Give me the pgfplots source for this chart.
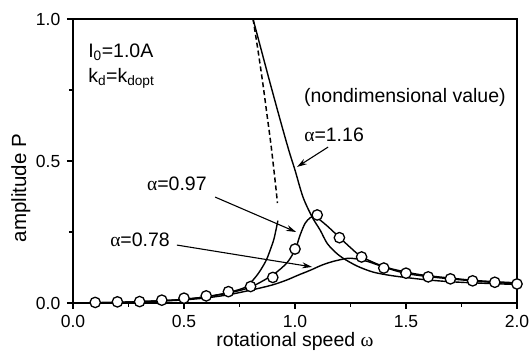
\documentclass[border=0pt]{standalone}
\usepackage{fontspec}
\setmainfont{Liberation Sans}
\newfontfamily\greek{Liberation Serif}
\usepackage{pgfplots}
\pgfplotsset{compat=1.18}
\usetikzlibrary{arrows.meta}

\begin{document}
\fontsize{19.5}{22}\selectfont
\begin{tikzpicture}
\useasboundingbox (-73pt,-60pt) rectangle (457pt,303pt);
\begin{axis}[
  at={(0pt,0pt)}, anchor=south west,
  scale only axis, width=444pt, height=284pt,
  xmin=0, xmax=2, ymin=0, ymax=1,
  xtick={0,0.5,1,1.5,2}, ytick={0,0.5,1},
  minor x tick num=1, minor y tick num=1,
  tick align=outside, major tick length=6pt, minor tick length=4pt,
  xtick pos=left, ytick pos=left,
  axis line style={line width=1.8pt},
  every tick/.style={line width=1.3pt, black},
  /pgf/number format/assume math mode=true,
  xticklabel style={/pgf/number format/.cd,fixed,fixed zerofill,precision=1},
  yticklabel style={/pgf/number format/.cd,fixed,fixed zerofill,precision=1},
  ticklabel style={font=\fontsize{17.5}{20}\selectfont},
  clip=false,
]
% alpha = 1.16 right branch
\addplot[black, line width=1.4pt, smooth] coordinates {
(0.811,1.0) (0.845,0.90) (0.878,0.803) (0.912,0.705) (0.946,0.609) (0.975,0.53)
(1.0,0.468) (1.036,0.373) (1.077,0.303) (1.113,0.257) (1.144,0.211) (1.18,0.18)
(1.216,0.158) (1.28,0.13) (1.351,0.109) (1.43,0.097) (1.518,0.088) (1.6,0.081)
(1.698,0.075) (1.8,0.071) (1.9,0.068) (2.0,0.065)};
% dashed branch
\addplot[black, line width=1.5pt, dash pattern=on 5pt off 3pt, smooth] coordinates {
(0.811,1.0) (0.833,0.891) (0.856,0.768) (0.874,0.662) (0.892,0.556) (0.905,0.468) (0.914,0.405) (0.921,0.352)};
% alpha = 1.16 left branch
\addplot[black, line width=1.4pt, smooth] coordinates {
(0,0) (0.2,0.002) (0.4,0.008) (0.5,0.013) (0.6,0.022) (0.7,0.037) (0.775,0.055)
(0.81,0.08) (0.84,0.11) (0.87,0.15) (0.89,0.19) (0.905,0.225) (0.915,0.26) (0.923,0.29)};
% alpha = 0.97
\addplot[black, line width=1.4pt, smooth] coordinates {
(0,0) (0.2,0.002) (0.4,0.008) (0.5,0.013) (0.6,0.022) (0.7,0.035) (0.8,0.056)
(0.9,0.099) (0.963,0.141) (1.0,0.187) (1.023,0.239) (1.045,0.28) (1.068,0.30)
(1.085,0.305) (1.10,0.30) (1.144,0.272) (1.203,0.229) (1.25,0.195) (1.302,0.162)
(1.405,0.127) (1.518,0.106) (1.6,0.096) (1.698,0.088) (1.8,0.08) (1.9,0.075) (2.0,0.071)};
% alpha = 0.78
\addplot[black, line width=1.4pt, smooth] coordinates {
(0,0) (0.2,0.002) (0.4,0.007) (0.5,0.011) (0.6,0.018) (0.7,0.029) (0.811,0.047)
(0.9,0.064) (0.963,0.081) (1.014,0.098) (1.068,0.115) (1.12,0.133) (1.17,0.146)
(1.234,0.157) (1.27,0.156) (1.324,0.147) (1.414,0.123) (1.5,0.104) (1.6,0.093)
(1.7,0.085) (1.8,0.078) (1.9,0.072) (2.0,0.068)};
% measured points
\addplot[only marks, mark=*, mark size=5.2pt, mark options={fill=white, draw=black, line width=1.3pt}] coordinates {
(0.1,0.002) (0.2,0.004) (0.3,0.005) (0.4,0.01) (0.5,0.017) (0.6,0.025) (0.7,0.04)
(0.8,0.058) (0.9,0.09) (1.0,0.19) (1.1,0.31) (1.2,0.23) (1.3,0.162) (1.4,0.123)
(1.5,0.105) (1.6,0.092) (1.7,0.085) (1.8,0.078) (1.9,0.073) (2.0,0.067)};
% arrows
\draw[line width=1.1pt, -{Stealth[length=10pt,width=6pt]}] (axis cs:1.149,0.549) -- (axis cs:1.009,0.479);
\draw[line width=1.1pt, -{Stealth[length=10pt,width=6pt]}] (axis cs:0.64,0.373) -- (axis cs:1.005,0.25);
\draw[line width=1.1pt, -{Stealth[length=10pt,width=6pt]}] (axis cs:0.468,0.204) -- (axis cs:1.077,0.127);
% texts
\node at (axis cs:1.495,0.725) {(nondimensional value)};
\node at (axis cs:1.176,0.592) {{\greek α}=1.16};
\node at (axis cs:0.468,0.419) {{\greek α}=0.97};
\node at (axis cs:0.302,0.222) {{\greek α}=0.78};
\node[anchor=base west, inner sep=0pt] at (axis cs:0.068,0.866) {I\textsubscript{0}=1.0A};
\node[anchor=base west, inner sep=0pt] at (axis cs:0.068,0.778) {k\textsubscript{d}=k\textsubscript{dopt}};
\node at (axis cs:1.0,-0.137) {rotational speed {\greek ω}};
\node[rotate=90, font=\fontsize{20.5}{23}\selectfont] at (axis cs:-0.235,0.405) {amplitude P};
\end{axis}
\end{tikzpicture}
\end{document}
